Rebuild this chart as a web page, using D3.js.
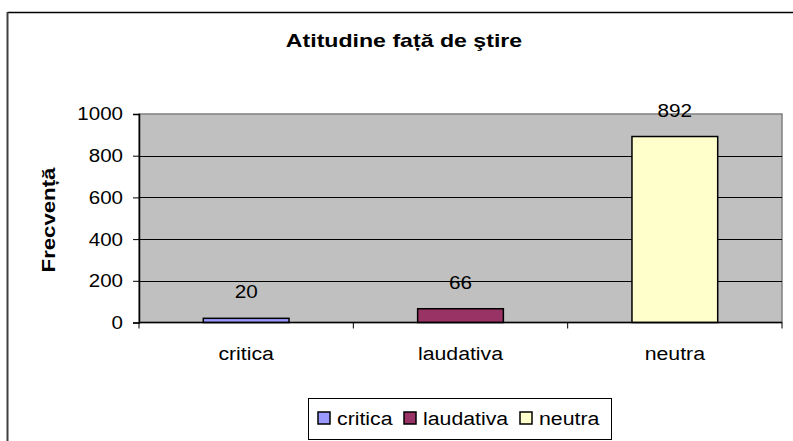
<!DOCTYPE html>
<html>
<head>
  <meta charset="utf-8">
  <script src="https://d3js.org/d3.v7.min.js"></script>
  <style type="text/css">
    body { margin: 0; background: #fff; }
    text { font-family: "Liberation Sans", Arial, sans-serif; fill: #000; }
  </style>
</head>
<body>
  <script type="text/javascript">
    // chart data
    var categories = ['critica', 'laudativa', 'neutra'];
    var values = [20, 66, 892];
    var colors = ['#9999ff', '#993366', '#ffffcc'];
    var yTicks = [0, 200, 400, 600, 800, 1000];
    var title = 'Atitudine față de ştire';
    var yTitle = 'Frecvență';

    var width = 793, height = 441;
    var plot = { left: 139, right: 782, top: 114, bottom: 322.5 };

    var svg = d3.select('body').append('svg')
      .attr('width', width)
      .attr('height', height);

    // outer chart frame (only left and top visible)
    svg.append('line')
      .attr('x1', 7.5).attr('x2', width).attr('y1', 12.5).attr('y2', 12.5)
      .style('stroke', '#000').style('stroke-width', 1.5);
    svg.append('line')
      .attr('x1', 7.5).attr('x2', 7.5).attr('y1', 12).attr('y2', height)
      .style('stroke', '#404040').style('stroke-width', 2);

    // helper for the wide excel-ish text
    function stretchText(g, x, y, s, sx, rot) {
      return g.append('text')
        .attr('transform', 'translate(' + x + ',' + y + ')' + (rot ? ' rotate(' + rot + ')' : '') + ' scale(' + sx + ',1)')
        .text(s);
    }

    var x = d3.scaleBand()
      .domain(categories)
      .range([plot.left, plot.right]);

    var y = d3.scaleLinear()
      .domain([0, 1000])
      .range([plot.bottom, plot.top]);

    // plot area
    svg.append('rect')
      .attr('x', plot.left).attr('y', plot.top)
      .attr('width', plot.right - plot.left)
      .attr('height', plot.bottom - plot.top)
      .style('fill', '#c0c0c0')
      .style('stroke', '#808080')
      .style('stroke-width', 1.5);

    // gridlines
    svg.append('g').selectAll('line')
      .data(yTicks.filter(function (d) { return d > 0 && d < 1000; }))
      .enter().append('line')
        .attr('x1', plot.left).attr('x2', plot.right)
        .attr('y1', function (d) { return Math.round(y(d)) + 0.5; })
        .attr('y2', function (d) { return Math.round(y(d)) + 0.5; })
        .style('stroke', '#000').style('stroke-width', 1);

    // bars
    var barW = x.bandwidth() / 2.5;
    svg.append('g').selectAll('rect')
      .data(values)
      .enter().append('rect')
        .attr('x', function (d, i) { return x(categories[i]) + (x.bandwidth() - barW) / 2; })
        .attr('y', function (d) { return y(d); })
        .attr('width', barW)
        .attr('height', function (d) { return y(0) - y(d); })
        .style('fill', function (d, i) { return colors[i]; })
        .style('stroke', '#000')
        .style('stroke-width', 1.5);

    // value labels
    var lbl = svg.append('g').style('font-size', '18.5px').style('text-anchor', 'middle');
    values.forEach(function (d, i) {
      stretchText(lbl, x(categories[i]) + x.bandwidth() / 2, y(d) - 20, d, 1.12);
    });

    // y axis
    var yAxis = d3.axisLeft(y).tickValues(yTicks).tickFormat(d3.format('d')).tickSize(6).tickPadding(9);
    var ya = svg.append('g')
      .attr('transform', 'translate(' + plot.left + ',0)')
      .call(yAxis);
    ya.select('.domain').style('stroke', '#000').style('stroke-width', 1.5);
    ya.selectAll('.tick line').style('stroke', '#000');
    ya.selectAll('.tick text')
      .style('font-family', '"Liberation Sans", Arial, sans-serif')
      .style('font-size', '18.5px')
      .attr('transform', 'scale(1.11,1)')
      .attr('x', -10 / 1.11 - 6 / 1.11);

    // x axis
    var xa = svg.append('g')
      .attr('transform', 'translate(0,' + plot.bottom + ')');
    xa.append('line')
      .attr('x1', plot.left).attr('x2', plot.right)
      .style('stroke', '#000').style('stroke-width', 1.5);
    xa.selectAll('line.tk')
      .data(d3.range(categories.length + 1))
      .enter().append('line')
        .attr('class', 'tk')
        .attr('x1', function (i) { return i < categories.length ? x(categories[i]) : plot.right; })
        .attr('x2', function (i) { return i < categories.length ? x(categories[i]) : plot.right; })
        .attr('y1', 0).attr('y2', 6)
        .style('stroke', '#000');
    var xl = xa.append('g').style('font-size', '19px').style('text-anchor', 'middle');
    categories.forEach(function (c) {
      stretchText(xl, x(c) + x.bandwidth() / 2, 37.5, c, 1.12);
    });

    // titles
    stretchText(svg, 404, 47, title, 1.25)
      .style('font-size', '18.5px').style('font-weight', 'bold').style('text-anchor', 'middle');
    stretchText(svg, 55, 220, yTitle, 1.2, -90)
      .style('font-size', '18.5px').style('font-weight', 'bold').style('text-anchor', 'middle');

    // legend
    var legend = svg.append('g');
    legend.append('rect')
      .attr('x', 308.5).attr('y', 398.5).attr('width', 303).attr('height', 41)
      .style('fill', '#fff').style('stroke', '#000').style('stroke-width', 1);
    var lx = [318, 404, 520];
    categories.forEach(function (c, i) {
      legend.append('rect')
        .attr('x', lx[i]).attr('y', 412).attr('width', 12).attr('height', 12)
        .style('fill', colors[i]).style('stroke', '#000').style('stroke-width', 1.5);
      stretchText(legend, lx[i] + 19, 425, c, 1.12).style('font-size', '19px');
    });
  </script>
</body>
</html>
